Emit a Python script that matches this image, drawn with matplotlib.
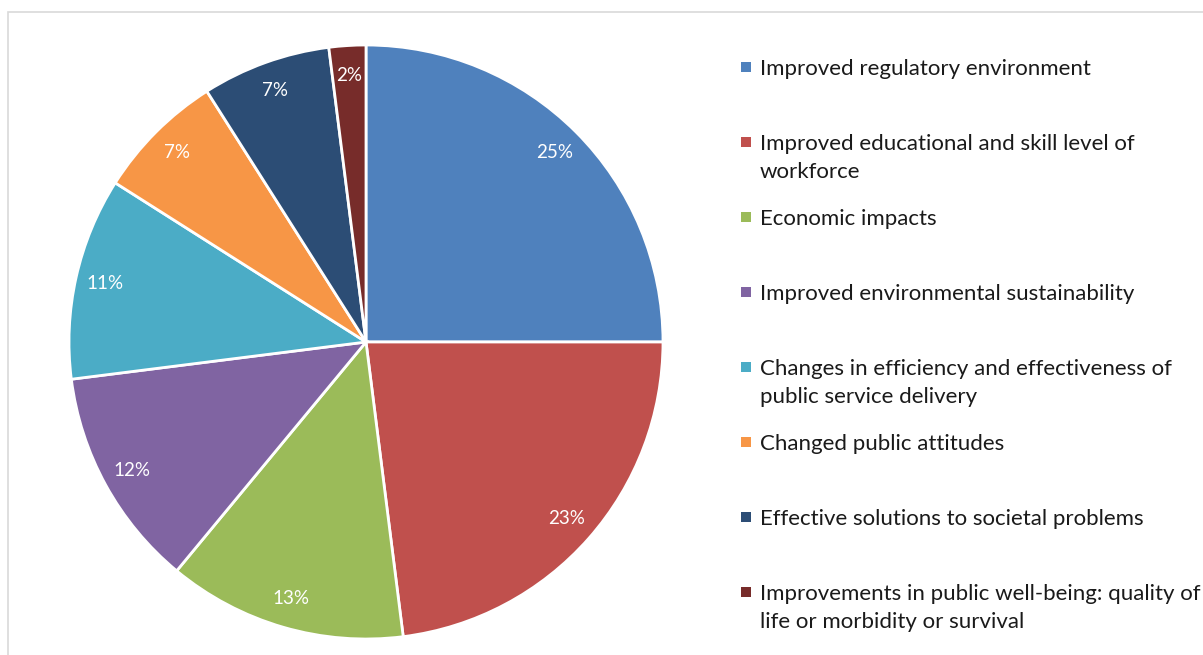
import matplotlib.pyplot as plt
from matplotlib.patches import Rectangle

categories = [
    "Improved regulatory environment",
    "Improved educational and skill level of\nworkforce",
    "Economic impacts",
    "Improved environmental sustainability",
    "Changes in efficiency and effectiveness of\npublic service delivery",
    "Changed public attitudes",
    "Effective solutions to societal problems",
    "Improvements in public well-being: quality of\nlife or morbidity or survival",
]
shares = [25, 23, 13, 12, 11, 7, 7, 2]
colors = ["#4F81BD", "#C0504D", "#9BBB59", "#8064A2",
          "#4BACC6", "#F79646", "#2C4D75", "#772C2A"]

plt.rcParams['font.family'] = ['Lato', 'DejaVu Sans']

W, H = 1203, 655
fig = plt.figure(figsize=(W / 100, H / 100), dpi=100)

# light chart-area border, open at the right and bottom
fig.patches.append(Rectangle((7.5 / W, -0.05), 1.2, (H - 12) / H + 0.05,
                             transform=fig.transFigure, fill=False,
                             edgecolor="#d9d9d9", linewidth=1.2))

# pie centred at (366, 342) px with radius 297 px
cx, cy, r = 366, 342, 297
ax = fig.add_axes([(cx - r) / W, (H - cy - r) / H, 2 * r / W, 2 * r / H])
ax.pie(shares, colors=colors, startangle=90, counterclock=False,
       autopct='%d%%', pctdistance=0.9, radius=1,
       wedgeprops=dict(edgecolor="white", linewidth=2),
       textprops=dict(color="white", fontsize=13.5))
ax.set_xlim(-1, 1)
ax.set_ylim(-1, 1)
ax.set_aspect('equal')
ax.axis('off')

# legend drawn as evenly spaced entries
y0, step = 67, 75
for i, (label, c) in enumerate(zip(categories, colors)):
    y = y0 + i * step
    fig.patches.append(Rectangle((741 / W, (H - y - 5) / H), 10 / W, 10 / H,
                                 transform=fig.transFigure, facecolor=c,
                                 edgecolor="none"))
    fig.text(760 / W, (H - y + 8) / H, label, fontsize=16, color="#1a1a1a",
             va='top', ha='left', linespacing=1.5,
             transform=fig.transFigure)

fig.savefig("out.png", dpi=100)
